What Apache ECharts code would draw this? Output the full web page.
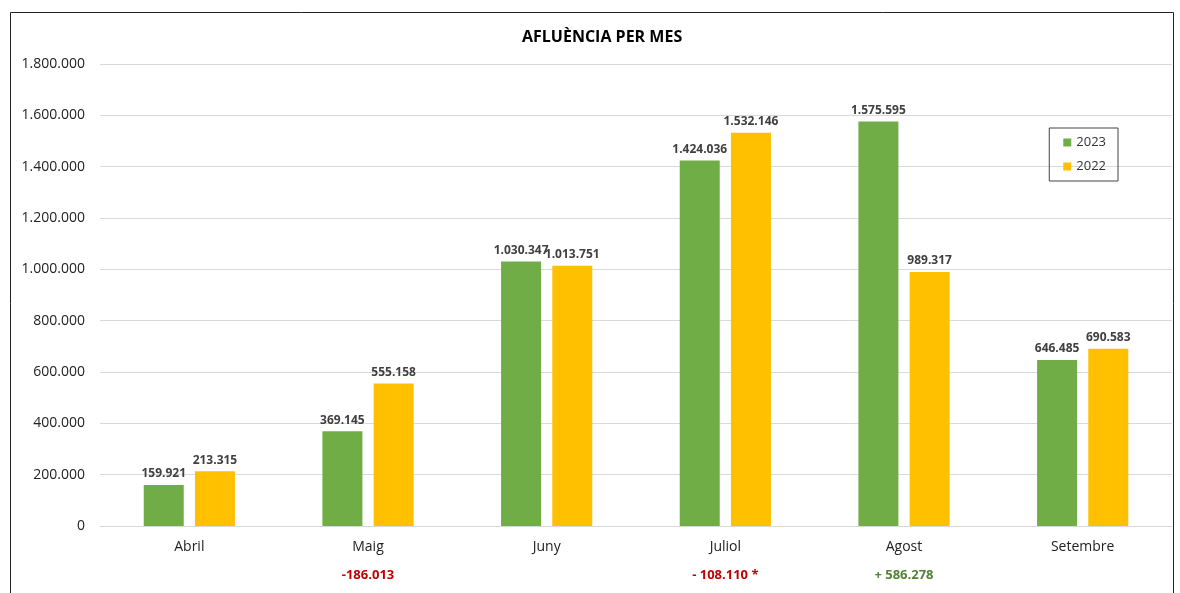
<!DOCTYPE html>
<html>
<head>
    <meta charset="utf-8">
    <title>Afluència per mes</title>
    <script src="https://cdn.jsdelivr.net/npm/echarts@6/dist/echarts.min.js"></script>
    <style>
        html, body { margin: 0; padding: 0; background: #fff; }
        #chart { width: 1180px; height: 593px; }
    </style>
</head>
<body>
<div id="chart"></div>
<script type="text/javascript">
    // mesos
    var mesos = ['Abril', 'Maig', 'Juny', 'Juliol', 'Agost', 'Setembre'];
    // visitants 2023 i 2022
    var valors2023 = [159921, 369145, 1030347, 1424036, 1575595, 646485];
    var valors2022 = [213315, 555158, 1013751, 1532146, 989317, 690583];
    // diferències que surten sota el mes
    var diferencies = ['', '-186.013', '', '- 108.110 *', '+ 586.278', ''];
    var colorDiferencia = ['', 'r', '', 'r', 'g', ''];

    var fmt = function (v) {
        return String(Math.round(v)).replace(/\B(?=(\d{3})+(?!\d))/g, '.');
    };

    var font = '"Open Sans", "Liberation Sans", sans-serif';
    var etiqueta = {
        show: true,
        position: 'top',
        distance: 5,
        color: '#404040',
        fontWeight: 'bold',
        fontSize: 12,
        fontFamily: font,
        formatter: function (p) { return fmt(p.value); }
    };

    var myChart = echarts.init(document.getElementById('chart'));
    myChart.setOption({
        animation: false,
        textStyle: { fontFamily: font },
        title: {
            text: 'AFLUÈNCIA PER MES',
            left: 517,
            top: 24,
            textStyle: { fontSize: 16, fontWeight: 'bold', color: '#000', fontFamily: font }
        },
        graphic: [{
            type: 'rect',
            shape: { x: 10.5, y: 12.5, width: 1163, height: 600 },
            style: { fill: 'none', stroke: '#222', lineWidth: 1 },
            silent: true
        }],
        legend: {
            orient: 'vertical',
            right: 62,
            top: 128,
            padding: [8, 12, 8, 14],
            itemGap: 11,
            itemWidth: 8,
            itemHeight: 8,
            borderColor: '#444',
            borderWidth: 1,
            icon: 'rect',
            textStyle: { fontSize: 13, color: '#333', fontFamily: font },
            data: ['2023', '2022']
        },
        grid: { left: 100, right: 8, top: 64, bottom: 67, containLabel: false },
        xAxis: {
            type: 'category',
            data: mesos,
            axisTick: { show: false },
            axisLine: { lineStyle: { color: '#d9d9d9' } },
            axisLabel: {
                margin: 9,
                formatter: function (v, i) {
                    var s = '{m|' + v + '}';
                    if (diferencies[i]) s += '\n{' + colorDiferencia[i] + '|' + diferencies[i] + '}';
                    return s;
                },
                rich: {
                    m: { fontSize: 14, color: '#222', fontFamily: font, lineHeight: 24 },
                    r: { fontSize: 13, color: '#C00000', fontWeight: 'bold', fontFamily: font, lineHeight: 33 },
                    g: { fontSize: 13, color: '#548235', fontWeight: 'bold', fontFamily: font, lineHeight: 33 }
                }
            }
        },
        yAxis: {
            type: 'value',
            min: 0,
            max: 1800000,
            interval: 200000,
            axisLabel: {
                margin: 15,
                fontSize: 14,
                color: '#222',
                formatter: function (v) { return fmt(v); }
            },
            splitLine: { lineStyle: { color: '#d9d9d9' } }
        },
        series: [
            {
                name: '2023',
                type: 'bar',
                data: valors2023,
                barWidth: 40,
                barGap: '28%',
                itemStyle: { color: '#70AD47' },
                label: etiqueta
            },
            {
                name: '2022',
                type: 'bar',
                data: valors2022,
                barWidth: 40,
                itemStyle: { color: '#FFC000' },
                label: etiqueta
            }
        ]
    });
</script>
</body>
</html>
